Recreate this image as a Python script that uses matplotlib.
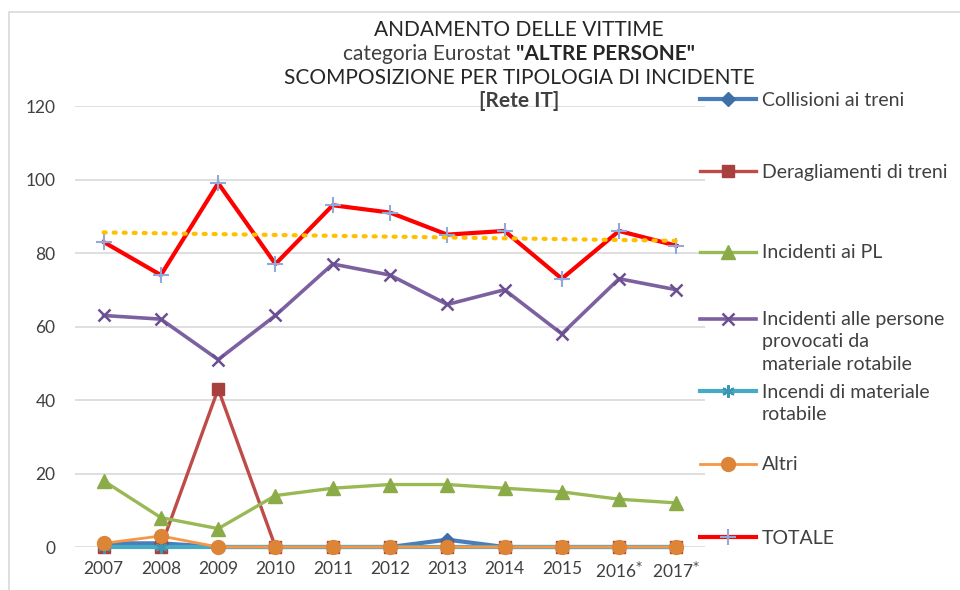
import numpy as np
import matplotlib
matplotlib.use("Agg")
import matplotlib.pyplot as plt
from matplotlib.lines import Line2D
from matplotlib.patches import Rectangle

plt.rcParams['font.family'] = ['Lato', 'DejaVu Sans']

anni = ['2007', '2008', '2009', '2010', '2011', '2012', '2013', '2014', '2015', '2016', '2017']
etichette = ['2007', '2008', '2009', '2010', '2011', '2012', '2013', '2014', '2015',
             '2016$^{*}$', '2017$^{*}$']

collisioni = [1, 1, 0, 0, 0, 0, 2, 0, 0, 0, 0]
deragliamenti = [0, 0, 43, 0, 0, 0, 0, 0, 0, 0, 0]
incidenti_pl = [18, 8, 5, 14, 16, 17, 17, 16, 15, 13, 12]
incidenti_persone = [63, 62, 51, 63, 77, 74, 66, 70, 58, 73, 70]
incendi = [0, 0, 0, 0, 0, 0, 0, 0, 0, 0, 0]
altri = [1, 3, 0, 0, 0, 0, 0, 0, 0, 0, 0]
totale = [83, 74, 99, 77, 93, 91, 85, 86, 73, 86, 82]

serie = [
    ("Collisioni ai treni", collisioni, dict(color='#4a7ebb', lw=3.0, marker='D', ms=7, mfc='#3f6fa8', mec='#3f6fa8')),
    ("Deragliamenti di treni", deragliamenti, dict(color='#be4b48', lw=2.4, marker='s', ms=9, mfc='#a8403e', mec='#a8403e')),
    ("Incidenti ai PL", incidenti_pl, dict(color='#98b954', lw=2.4, marker='^', ms=10, mfc='#8aab47', mec='#8aab47')),
    ("Incidenti alle persone\nprovocati da\nmateriale rotabile", incidenti_persone,
     dict(color='#7d60a0', lw=2.6, marker='x', ms=9, mew=1.8, mec='#6a5090')),
    ("Incendi di materiale\nrotabile", incendi, dict(color='#46aac5', lw=3.0, marker=(6, 2, 0), ms=9, mew=1.6, mec='#3d97b0')),
    ("Altri", altri, dict(color='#f79646', lw=2.0, marker='o', ms=10, mfc='#dc8536', mec='#dc8536')),
    ("TOTALE", totale, dict(color='#ff0000', lw=3.0, marker='+', ms=11, mew=1.5, mec='#8ea9db')),
]

fig = plt.figure(figsize=(9.6, 5.9), dpi=100)
ax = fig.add_axes([75 / 960, 1 - 547 / 590, 630 / 960, 441 / 590])

x = np.arange(len(anni))
for nome, valori, stile in serie:
    ax.plot(x, valori, clip_on=False, zorder=3, **stile)

# tendenza lineare del totale
coef = np.polyfit(x, totale, 1)
ax.plot(x, np.polyval(coef, x), color='#ffc000', lw=3, linestyle=(0, (0.5, 1.9)),
        dash_capstyle='round', zorder=4)

ax.set_xlim(-0.5, len(anni) - 0.5)
ax.set_ylim(0, 120)
ax.set_yticks(range(0, 121, 20))
ax.set_xticks(x)
ax.set_xticklabels(etichette)
ax.tick_params(length=0, labelsize=12.5, colors='#404040')
ax.tick_params(axis='y', pad=14)
ax.tick_params(axis='x', pad=10)
ax.grid(axis='y', color='#d9d9d9', lw=1.2)
ax.set_axisbelow(True)
for s in ax.spines.values():
    s.set_visible(False)

# bordo del grafico
fig.add_artist(Rectangle((9 / 960, -0.1), 1.1, 1.1 - 12 / 590, transform=fig.transFigure,
                         fill=False, edgecolor='#d9d9d9', lw=1.2))

# titolo
tc = 519 / 960
fs_t = 15
fig.text(tc, 1 - 30 / 590, "ANDAMENTO DELLE VITTIME", ha='center', va='center', fontsize=fs_t, color='#262626')
t1 = fig.text(0, 1 - 54 / 590, "categoria Eurostat ", ha='left', va='center', fontsize=fs_t, color='#404040')
t2 = fig.text(0, 1 - 54 / 590, '"ALTRE PERSONE"', ha='left', va='center', fontsize=fs_t,
              fontweight='bold', color='#262626')
r = fig.canvas.get_renderer()
w1 = t1.get_window_extent(r).width / 960
w2 = t2.get_window_extent(r).width / 960
x0 = tc - (w1 + w2) / 2
t1.set_x(x0)
t2.set_x(x0 + w1)
fig.text(tc, 1 - 78 / 590, "SCOMPOSIZIONE PER TIPOLOGIA DI INCIDENTE", ha='center', va='center',
         fontsize=fs_t, color='#262626')
fig.text(tc, 1 - 101 / 590, "[Rete IT]", ha='center', va='center', fontsize=fs_t,
         fontweight='bold', color='#404040')

# legenda a destra (simbolo allineato alla prima riga, come in Excel)
pos_leg = [100, 172, 253, 320, 392, 465, 538]
passo = 22
legende = []
for (nome, valori, stile), py in zip(serie, pos_leg):
    righe = nome.split('\n')
    h = Line2D([], [], **stile)
    leg = fig.legend(handles=[h], labels=[righe[0]], loc='center left',
                     bbox_to_anchor=(690 / 960, 1 - py / 590), frameon=False,
                     fontsize=14, handlelength=2.9, handletextpad=0.3,
                     borderpad=0, labelcolor='#404040')
    legende.append((leg, righe, py))

fig.canvas.draw()
r = fig.canvas.get_renderer()
for leg, righe, py in legende:
    if len(righe) > 1:
        xt = leg.get_texts()[0].get_window_extent(r).x0 / 960
        for i, riga in enumerate(righe[1:], start=1):
            fig.text(xt, 1 - (py + i * passo) / 590, riga, ha='left', va='center',
                     fontsize=14, color='#404040')

fig.savefig('out.png', dpi=100)
